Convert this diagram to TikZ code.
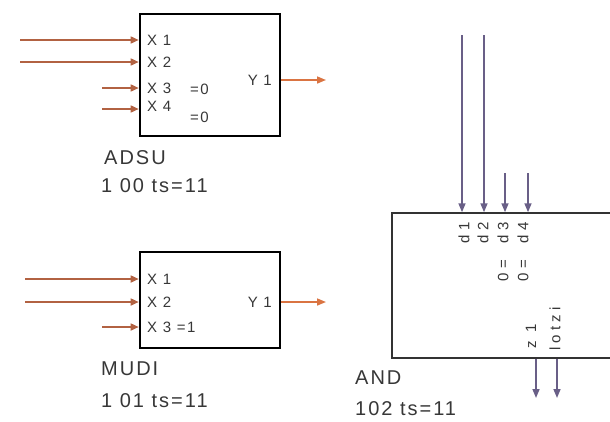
\documentclass[tikz,border=0pt]{standalone}
\usepackage{fontspec}
\setmainfont{Liberation Sans}
\newfontfamily\blkfont[LetterSpace=10]{Liberation Sans}
\newfontfamily\andfont[LetterSpace=28]{Liberation Sans}
\usetikzlibrary{arrows.meta}
\definecolor{wirebrown}{RGB}{178,98,66}
\definecolor{wireorange}{RGB}{218,116,66}
\definecolor{wireviolet}{RGB}{105,95,135}
\definecolor{txtgrey}{RGB}{55,55,55}

\begin{document}
\begin{tikzpicture}[
    x=1pt, y=-1pt,
    blk/.style={draw=black, line width=2.6pt, minimum width=140pt, inner sep=0pt},
    andblk/.style={draw=black!80, line width=1.5pt, inner sep=0pt, minimum width=248pt, minimum height=145pt},
    wire/.style={-{Triangle[length=8pt,width=7pt]}, line width=1.6pt, color=wirebrown},
    outwire/.style={-{Triangle[length=9pt,width=7pt]}, line width=1.6pt, color=wireorange},
    vwire/.style={-{Triangle[length=9pt,width=7pt]}, line width=1.6pt, color=wireviolet},
    pin/.style={font=\blkfont\fontsize{15}{15}\selectfont, text=txtgrey, inner sep=0pt},
    andpin/.style={font=\andfont\fontsize{15}{15}\selectfont, text=txtgrey, inner sep=0pt, rotate=90},
    lab/.style={font=\blkfont\fontsize{20}{20}\selectfont, text=txtgrey, inner sep=0pt, anchor=west}
]
    \useasboundingbox (0,0) rectangle (610,421);

    % ADSU block
    \node[blk, minimum height=122pt] (adsu) at (210,75) {};
    \node[pin, anchor=west] (ax1) at (147,40) {X 1};
    \node[pin, anchor=west] (ax2) at (147,62) {X 2};
    \node[pin, anchor=west] (ax3) at (147,88) {X 3};
    \node[pin, anchor=west] (ax4) at (147,106) {X 4};
    \node[pin, anchor=west] (ax3v) at (190,89) {=0};
    \node[pin, anchor=west] (ax4v) at (190,117) {=0};
    \node[pin, anchor=east] (ay1) at (272,80) {Y 1};
    \coordinate (a1) at (20,40);
    \coordinate (a2) at (20,62);
    \coordinate (a3) at (102,88);
    \coordinate (a4) at (102,109);
    \coordinate (ay) at (326,80);
    \draw[wire] (a1) -- (a1 -| adsu.west);
    \draw[wire] (a2) -- (a2 -| adsu.west);
    \draw[wire] (a3) -- (a3 -| adsu.west);
    \draw[wire] (a4) -- (a4 -| adsu.west);
    \draw[outwire] (adsu.east |- ay) -- (ay);
    \node[lab] (adsuname) at (104,158) {ADSU};
    \node[lab] (adsunum) at (101,186) {1 00 ts=11};

    % MUDI block
    \node[blk, minimum height=96pt] (mudi) at (210,300) {};
    \node[pin, anchor=west] (mx1) at (147,279) {X 1};
    \node[pin, anchor=west] (mx2) at (147,302) {X 2};
    \node[pin, anchor=west] (mx3) at (147,327) {X 3 =1};
    \node[pin, anchor=east] (my1) at (272,302) {Y 1};
    \coordinate (m1) at (25,279);
    \coordinate (m2) at (25,302);
    \coordinate (m3) at (102,327);
    \coordinate (my) at (326,302);
    \draw[wire] (m1) -- (m1 -| mudi.west);
    \draw[wire] (m2) -- (m2 -| mudi.west);
    \draw[wire] (m3) -- (m3 -| mudi.west);
    \draw[outwire] (mudi.east |- my) -- (my);
    \node[lab] (mudiname) at (101,369) {MUDI};
    \node[lab] (mudinum) at (101,401) {1 01 ts=11};

    % AND block, drawn turned
    \node[andblk] (and) at (516,285.5) {};
    \node[andpin, anchor=east] (d1) at (464,222) {d1};
    \node[andpin, anchor=east] (d2) at (483,222) {d2};
    \node[andpin, anchor=east] (d3) at (503,222) {0=\ \ d3};
    \node[andpin, anchor=east] (d4) at (523,222) {0=\ \ d4};
    \node[andpin, anchor=west] (z1) at (531,349) {z 1};
    \node[andpin, anchor=west] (zi) at (555,351) {lotzi};
    \coordinate (b1) at (462,35);
    \coordinate (b2) at (484,35);
    \coordinate (b3) at (505,173);
    \coordinate (b4) at (528,173);
    \coordinate (c1) at (536,398);
    \coordinate (c2) at (557,398);
    \draw[vwire] (b1) -- (b1 |- and.north);
    \draw[vwire] (b2) -- (b2 |- and.north);
    \draw[vwire] (b3) -- (b3 |- and.north);
    \draw[vwire] (b4) -- (b4 |- and.north);
    \draw[vwire] (c1 |- and.south) -- (c1);
    \draw[vwire] (c2 |- and.south) -- (c2);
    \node[lab] (andname) at (355,378) {AND};
    \node[lab] (andnum) at (355,409) {102 ts=11};
\end{tikzpicture}
\end{document}
